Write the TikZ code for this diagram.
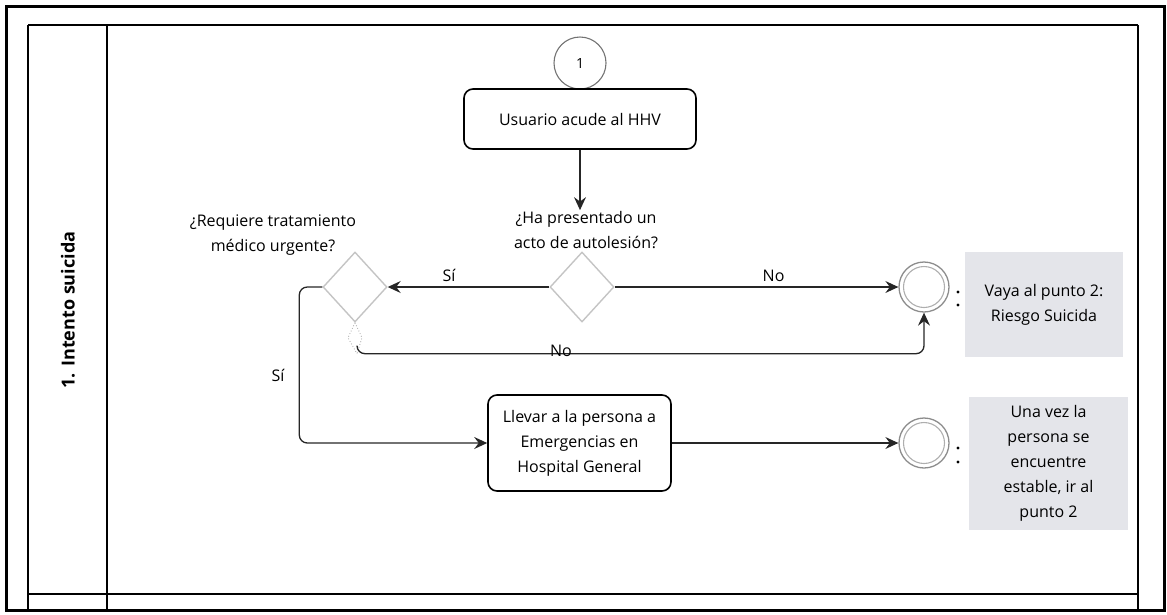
\documentclass[tikz,border=0pt]{standalone}
\usepackage{fontspec}
\setmainfont{Open Sans}
\usetikzlibrary{arrows.meta,shapes.geometric,calc}
\definecolor{annot}{HTML}{E4E5EA}
\definecolor{gwline}{HTML}{C4C4C4}
\definecolor{evline}{HTML}{8C8C8C}
\newcommand{\fsz}{\fontsize{16}{25}\selectfont}
\begin{document}
\begin{tikzpicture}[x=1pt,y=-1pt,
  flow/.style={draw=black!85, line width=1.3pt, rounded corners=8pt,
    -{Stealth[length=13pt,width=12pt,inset=4.5pt]}},
  task/.style={draw=black, line width=1.6pt, rounded corners=9pt, align=center,
    font=\fsz, inner sep=0pt},
  gw/.style={diamond, draw=gwline, line width=1.4pt, minimum width=64pt,
    minimum height=70pt, inner sep=0pt},
  endev/.style={circle, draw=evline, line width=1.3pt, minimum size=50pt, inner sep=0pt},
  annotbox/.style={fill=annot, align=center, font=\fsz, inner sep=0pt},
  lbl/.style={font=\fsz, align=center, inner sep=1pt},
  lane/.style={line width=1.2pt, draw=black}]
\useasboundingbox (0,0) rectangle (1167,614);
% frame and pool
\draw[line width=3pt] (6,6) rectangle (1164,610);
\draw[lane] (28,25) -- (1138,25);
\draw[lane] (28,25) -- (28,610);
\draw[lane] (107,25) -- (107,610);
\draw[lane] (1138,25) -- (1138,610);
\draw[line width=2.2pt] (28,594) -- (1138,594);
\node[rotate=90, font=\bfseries\fontsize{18}{20}\selectfont] (lanelbl) at (68,310) {1. Intento suicida};
% start event
\node[circle, draw=black!55, line width=1.1pt, minimum size=52pt, inner sep=0pt,
  font=\fontsize{14}{16}\selectfont] (start) at (580,63) {1};
% tasks
\node[task, minimum width=232pt, minimum height=60pt] (t1) at (580,119) {Usuario acude al HHV};
\node[task, minimum width=183pt, minimum height=96pt] (t2) at (579.5,443)
  {Llevar a la persona a\\Emergencias en\\Hospital General};
% gateways
\node[gw] (g1) at (582,287) {};
\node[gw] (g2) at (355,287) {};
\node[lbl] (g1lab) at (586,230) {¿Ha presentado un\\acto de autolesión?};
\node[lbl] (g2lab) at (273,235) {¿Requiere tratamiento\\médico urgente?};
% end events
\node[endev] (e1) at (924,287) {};
\node[endev] (e2) at (924,443) {};
\draw[evline!70, line width=1.1pt] (e1.center) circle (20.5);
\draw[evline!70, line width=1.1pt] (e2.center) circle (20.5);
% annotations
\node[annotbox, minimum width=158pt, minimum height=105pt] (a1) at (1044,304.5)
  {Vaya al punto 2:\\Riesgo Suicida};
\node[annotbox, minimum width=159pt, minimum height=133pt] (a2) at (1048.5,463.5)
  {Una vez la\\persona se\\encuentre\\estable, ir al\\punto 2};
\fill (958,292) circle (1.7);
\fill (958,305) circle (1.7);
\fill (958,448) circle (1.7);
\fill (958,462) circle (1.7);
% flows
\draw[flow] (t1.south) -- (t1.south |- g1lab.north);
\draw[flow] (g1.west) -- node[lbl, pos=0.62, above=4pt] (lsi1) {Sí} (g2.east);
\draw[flow] (g1.east) -- node[lbl, pos=0.56, above=4pt] (lno1) {No} (e1.west);
\draw[flow] (g2.west) -- ($(g2.west)+(-23,0)$) |- (t2.west);
\node[lbl] (lsi2) at (278,375) {Sí};
\draw[black!30, dotted, line width=0.9pt] (g2.south) -- ++(-7,15) -- ++(9,16);
\draw[black!30, dotted, line width=0.9pt] (g2.south) -- ++(7,15) -- ++(-5,16);
\draw[flow] ($(g2.south)+(2,24)$) -- ($(g2.south)+(2,31)$) -| (e1.south);
\node[lbl] (lno2) at (561,351) {No};
\draw[flow] (t2.east) -- (e2.west);
\end{tikzpicture}
\end{document}
